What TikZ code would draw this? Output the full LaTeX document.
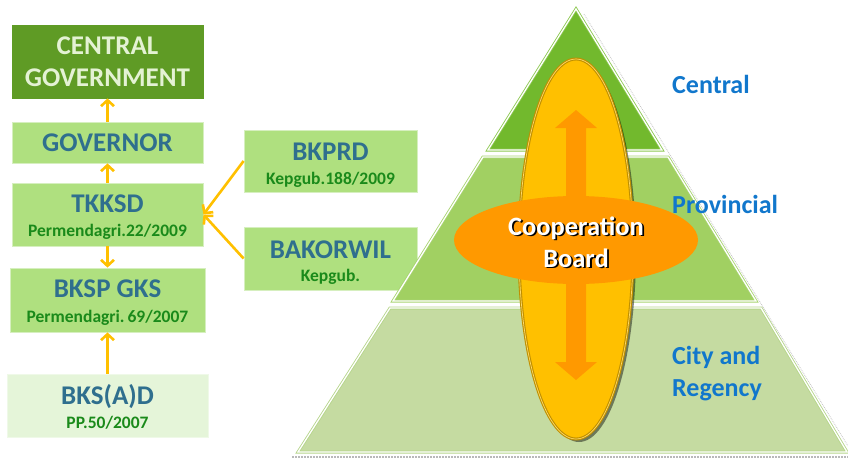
\documentclass[tikz,border=0pt]{standalone}
\usepackage{fontspec}
\setmainfont{Carlito}
\usetikzlibrary{arrows.meta,shadows,shapes.geometric}
\definecolor{dkgreen}{HTML}{5F9B25}
\definecolor{cgtext}{HTML}{E4F2D4}
\definecolor{boxgreen}{HTML}{AFE07F}
\definecolor{boxline}{HTML}{D6EFBF}
\definecolor{palegreen}{HTML}{E5F5D9}
\definecolor{titleblue}{HTML}{2F6F8E}
\definecolor{subgreen}{HTML}{1A8A1A}
\definecolor{arrowgold}{HTML}{FFC000}
\definecolor{tiertop}{HTML}{72B92D}
\definecolor{tiermid}{HTML}{A1D062}
\definecolor{tierbot}{HTML}{C5DBA1}
\definecolor{tierlinetop}{HTML}{8CC850}
\definecolor{tierlinemid}{HTML}{A8D470}
\definecolor{tierlinebot}{HTML}{B5D58A}
\definecolor{ellyellow}{HTML}{FFC000}
\definecolor{ellborder}{HTML}{BF8F00}
\definecolor{orangec}{HTML}{FF9900}
\definecolor{labelblue}{HTML}{1177CC}
\newcommand\shadowtext[1]{\rlap{\kern1.8pt\raisebox{-1.8pt}{\textcolor{black}{#1}}}#1}
\tikzset{
  box/.style={draw=boxline, line width=0.8pt, fill=boxgreen, inner sep=0pt},
  ttl/.style={font=\fontsize{27}{32}\selectfont\bfseries, text=titleblue, inner sep=0pt, anchor=base},
  sub/.style={font=\fontsize{17.5}{21}\selectfont\bfseries, text=subgreen, inner sep=0pt, anchor=base},
  lvl/.style={font=\fontsize{26}{30}\selectfont\bfseries, text=labelblue, inner sep=0pt, anchor=base west},
  coop/.style={font=\fontsize{26.5}{31}\selectfont\bfseries, inner sep=0pt, anchor=base},
  arr/.style={draw=arrowgold, line width=2.6pt, -{Straight Barb[length=6pt,width=13pt]}},
  tier/.style={line width=3pt, line join=miter},
  tierin/.style={draw=white, line width=1.3pt, line join=miter}
}
\begin{document}
\begin{tikzpicture}[x=1pt,y=-1pt]
\useasboundingbox (0,0) rectangle (848,461);

% ---------- left hierarchy ----------
\node[box, fill=dkgreen, draw=dkgreen, minimum width=191pt, minimum height=73pt] (cg) at (107.5,61.5) {};
\node[ttl, text=cgtext] (cgt1) at (107.5,54) {CENTRAL};
\node[ttl, text=cgtext] (cgt2) at (107.5,86) {GOVERNMENT};

\node[box, minimum width=191pt, minimum height=41pt] (gov) at (107.5,142.5) {};
\node[ttl] (govt) at (107.5,151.5) {GOVERNOR};

\node[box, minimum width=191pt, minimum height=63pt] (tk) at (107.5,214.5) {};
\node[ttl] (tkt) at (107.5,212.5) {TKKSD};
\node[sub] (tks) at (107.5,236.5) {Permendagri.22/2009};

\node[box, minimum width=195pt, minimum height=64pt] (bksp) at (107.5,300) {};
\node[ttl] (bkspt) at (107.5,297.5) {BKSP GKS};
\node[sub] (bksps) at (107.5,322.5) {Permendagri.\,69/2007};

\node[box, fill=palegreen, draw=palegreen!60!white, minimum width=201pt, minimum height=63pt] (bksad) at (107.5,405.5) {};
\node[ttl] (bksadt) at (107.5,404) {BKS(A)D};
\node[sub] (bksads) at (107.5,428) {PP.50/2007};

\node[box, minimum width=173pt, minimum height=62pt] (bkprd) at (330.5,161) {};
\node[ttl] (bkprdt) at (330.5,160) {BKPRD};
\node[sub] (bkprds) at (330.5,184) {Kepgub.188/2009};

\node[box, minimum width=173pt, minimum height=63pt] (bak) at (330.5,258.5) {};
\node[ttl] (bakt) at (330.5,258) {BAKORWIL};
\node[sub] (baks) at (330.5,281) {Kepgub.};

\draw[arr] (gov.north) -- (cg.south);
\draw[arr] (tk.north) -- (gov.south);
\draw[arr] (tk.south) -- (bksp.north);
\draw[arr] (bksad.north) -- (bksp.south);
\draw[arr] (bkprd.west) -- (tk.east);
\draw[arr] (bak.west) -- (tk.east);

% ---------- pyramid ----------
\draw[gray!45, line width=0.8pt, densely dotted] (584,14) -- (848,446);
\draw[gray!55, line width=2pt, densely dotted] (292,457) -- (848,457);

\filldraw[tier, fill=tiertop, draw=tierlinetop] (576,9) -- (662,150) -- (488,150) -- cycle;
\draw[tierin] (576,9) -- (662,150) -- (488,150) -- cycle;
\filldraw[tier, fill=tiermid, draw=tierlinemid] (483,157) -- (668,157) -- (756,301) -- (393,301) -- cycle;
\draw[tierin] (483,157) -- (668,157) -- (756,301) -- (393,301) -- cycle;
\filldraw[tier, fill=tierbot, draw=tierlinebot] (390,308) -- (761,308) -- (847,452) -- (298,452) -- cycle;
\draw[tierin] (390,308) -- (761,308) -- (847,452) -- (298,452) -- cycle;

% vertical ellipse
\node[ellipse, fill=ellyellow, draw=ellborder, line width=1.1pt, double=ellyellow!60!white, double distance=0.7pt,
      minimum width=114pt, minimum height=380pt, inner sep=0pt,
      drop shadow={shadow xshift=3pt, shadow yshift=-3pt, fill=black, opacity=0.45}] (vell) at (576,249) {};

% double arrow
\fill[orangec] (576,110) -- (597,128) -- (586,128) -- (586,362) -- (597,362) -- (576,380)
  -- (555,362) -- (566,362) -- (566,128) -- (555,128) -- cycle;

% horizontal ellipse
\node[ellipse, fill=orangec, minimum width=244pt, minimum height=88pt, inner sep=0pt] (hell) at (576,240) {};

\node[coop, text=white] (c1) at (576,235) {\shadowtext{Cooperation}};
\node[coop, text=white] (c2) at (576,267) {\shadowtext{Board}};

% level labels
\node[lvl] (lc) at (672,93) {Central};
\node[lvl] (lp) at (672,213) {Provincial};
\node[lvl] (lr1) at (672,364) {City and};
\node[lvl] (lr2) at (672,396) {Regency};
\end{tikzpicture}
\end{document}
